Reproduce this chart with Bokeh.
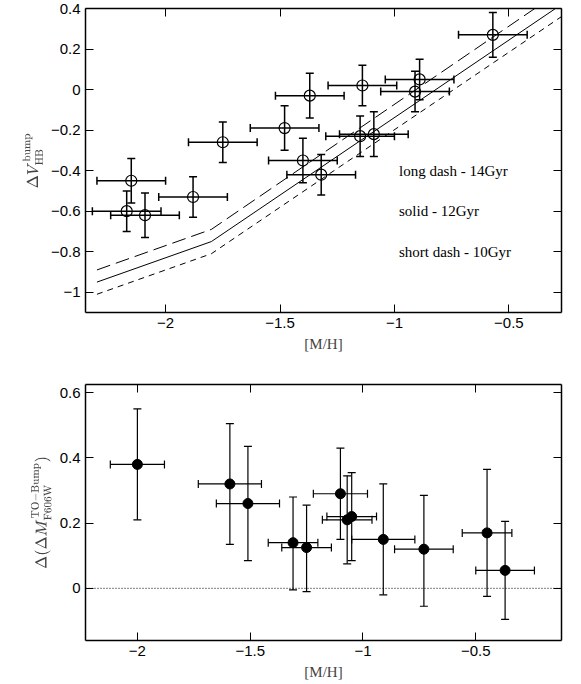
from bokeh.plotting import figure
from bokeh.models import ColumnDataSource, Whisker, TeeHead, LinearAxis, Span, Range1d, CustomJSTickFormatter
from bokeh.layouts import column
from bokeh.embed import file_html
from bokeh.resources import INLINE

# top panel: bump - HB
top_mh = [-2.17, -2.15, -2.09, -1.88, -1.75, -1.48, -1.40, -1.37, -1.32, -1.15, -1.14, -1.09, -0.91, -0.89, -0.57]
top_dv = [-0.60, -0.45, -0.62, -0.53, -0.26, -0.19, -0.35, -0.03, -0.42, -0.23, 0.02, -0.22, -0.01, 0.05, 0.27]
top_xerr = [0.15] * 15
top_yerr = [0.10, 0.11, 0.11, 0.10, 0.10, 0.11, 0.11, 0.11, 0.10, 0.10, 0.10, 0.11, 0.10, 0.10, 0.11]

mod_x = [-2.3, -1.8, -0.27]
mod_14 = [-0.89, -0.69, 0.49]
mod_12 = [-0.95, -0.75, 0.42]
mod_10 = [-1.01, -0.81, 0.36]

# bottom panel
bot_mh = [-2.0, -1.59, -1.51, -1.31, -1.25, -1.10, -1.07, -1.05, -0.91, -0.73, -0.45, -0.37]
bot_d = [0.38, 0.32, 0.26, 0.14, 0.125, 0.29, 0.21, 0.22, 0.15, 0.12, 0.17, 0.055]
bot_xerr = [0.12, 0.14, 0.14, 0.11, 0.11, 0.12, 0.11, 0.11, 0.14, 0.13, 0.11, 0.13]
bot_lo = [0.21, 0.135, 0.085, -0.005, -0.01, 0.15, 0.075, 0.085, -0.02, -0.055, -0.025, -0.095]
bot_hi = [0.55, 0.505, 0.435, 0.28, 0.255, 0.43, 0.345, 0.355, 0.32, 0.285, 0.365, 0.205]

TICKF = "Liberation Sans"
LABF = "Liberation Serif"
MINUS = CustomJSTickFormatter(code="return String(tick).replace('-', '\u2212')")
BLANK = CustomJSTickFormatter(code="return ''")


def style(p, xticks, yticks):
    p.below[0].ticker = xticks
    p.left[0].ticker = yticks
    p.below[0].formatter = MINUS
    p.left[0].formatter = MINUS
    p.add_layout(LinearAxis(ticker=xticks, formatter=BLANK), "above")
    p.add_layout(LinearAxis(ticker=yticks, formatter=BLANK), "right")
    for ax in p.axis:
        ax.major_tick_in = 8
        ax.major_tick_out = 0
        ax.minor_tick_in = 4
        ax.minor_tick_out = 0
        ax.axis_line_width = 1.5
        ax.major_label_text_font = TICKF
        ax.major_label_text_font_size = "15px"
        ax.major_label_text_color = "black"
        ax.axis_label_text_font = LABF
        ax.axis_label_text_font_style = "normal"
        ax.axis_label_text_font_size = "15px"
    p.above[0].major_label_standoff = 0
    p.right[0].major_label_standoff = 0
    p.grid.visible = False
    p.outline_line_color = None


def errbars(p, src, w):
    p.add_layout(Whisker(source=src, base="y", lower="xl", upper="xu", dimension="width",
                         line_width=w, upper_head=TeeHead(size=8, line_width=w),
                         lower_head=TeeHead(size=8, line_width=w)))
    p.add_layout(Whisker(source=src, base="x", lower="yl", upper="yu", dimension="height",
                         line_width=w, upper_head=TeeHead(size=8, line_width=w),
                         lower_head=TeeHead(size=8, line_width=w)))


p1 = figure(width=565, height=354, output_backend="svg", toolbar_location=None,
            x_range=Range1d(-2.35, -0.27), y_range=Range1d(-1.1, 0.4),
            min_border_left=67, min_border_top=8, min_border_right=4)
style(p1, [-2, -1.5, -1, -0.5], [-1, -0.8, -0.6, -0.4, -0.2, 0, 0.2, 0.4])
p1.below[0].axis_label = "[M/H]"
p1.left[0].axis_label = r"$$\Delta V^{\rm bump}_{\rm HB}$$"
s1 = ColumnDataSource(dict(x=top_mh, y=top_dv,
                           xl=[a - b for a, b in zip(top_mh, top_xerr)], xu=[a + b for a, b in zip(top_mh, top_xerr)],
                           yl=[a - b for a, b in zip(top_dv, top_yerr)], yu=[a + b for a, b in zip(top_dv, top_yerr)]))
errbars(p1, s1, 1.5)
p1.scatter("x", "y", source=s1, size=11, fill_color=None, line_color="black", line_width=1.2)
p1.line(mod_x, mod_14, line_color="black", line_dash="14 6")
p1.line(mod_x, mod_12, line_color="black")
p1.line(mod_x, mod_10, line_color="black", line_dash="6 5")
p1.text(x=[-0.98, -0.98, -0.98], y=[-0.4, -0.6, -0.8],
        text=["long dash - 14Gyr", "solid - 12Gyr", "short dash - 10Gyr"],
        text_font=LABF, text_font_size="15px", text_baseline="middle")

p2 = figure(width=565, height=306, output_backend="svg", toolbar_location=None,
            x_range=Range1d(-2.23, -0.12), y_range=Range1d(-0.16, 0.625),
            min_border_left=85, min_border_top=8, min_border_right=4)
style(p2, [-2, -1.5, -1, -0.5], [0, 0.2, 0.4, 0.6])
p2.below[0].axis_label = "[M/H]"
p2.left[0].axis_label = r"$$\Delta(\Delta M^{\rm TO-Bump}_{\rm F606W})$$"
s2 = ColumnDataSource(dict(x=bot_mh, y=bot_d,
                           xl=[a - b for a, b in zip(bot_mh, bot_xerr)], xu=[a + b for a, b in zip(bot_mh, bot_xerr)],
                           yl=bot_lo, yu=bot_hi))
errbars(p2, s2, 1.2)
p2.scatter("x", "y", source=s2, size=10, color="black")
p2.add_layout(Span(location=0, dimension="width", line_dash="1 2", line_color="black"))

p = column(p1, p2, spacing=22)
open("out.html", "w").write(file_html(p, INLINE))
